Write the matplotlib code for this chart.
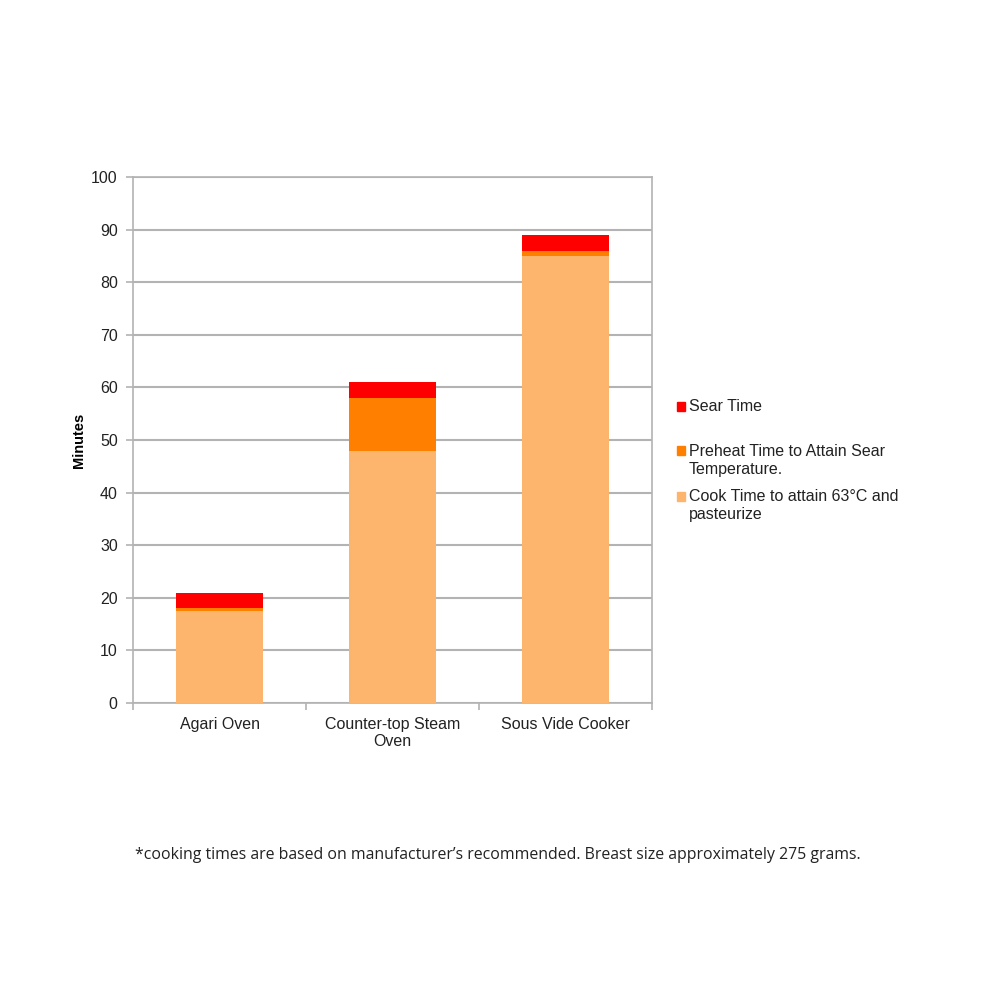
import matplotlib.pyplot as plt
from matplotlib.patches import Rectangle
import numpy as np

plt.rcParams['font.family'] = ['Liberation Sans', 'DejaVu Sans']

categories = ['Agari Oven', 'Counter-top Steam\nOven', 'Sous Vide Cooker']
cook_time = [17.5, 48, 85]
preheat_time = [0.5, 10, 1]
sear_time = [3, 3, 3]

series_labels = ['Sear Time',
                 'Preheat Time to Attain Sear\nTemperature.',
                 'Cook Time to attain 63°C and\npasteurize']
series_colors = ['#ff0000', '#ff8000', '#fdb46d']
footnote = ('*cooking times are based on manufacturer\u2019s recommended. '
            'Breast size approximately 275 grams.')

fig = plt.figure(figsize=(10, 10), dpi=100)
ax = fig.add_axes([0.133, 0.297, 0.519, 0.526])

x = np.arange(len(categories))
cook = np.array(cook_time)
pre = np.array(preheat_time)
sear = np.array(sear_time)
ax.bar(x, cook, width=0.5, color=series_colors[2], zorder=3)
ax.bar(x, pre, width=0.5, bottom=cook, color=series_colors[1], zorder=3)
ax.bar(x, sear, width=0.5, bottom=cook + pre, color=series_colors[0], zorder=3)

ax.set_xlim(-0.5, len(categories) - 0.5)
ax.set_ylim(0, 100)
ax.set_yticks(np.arange(0, 101, 10))
ax.yaxis.grid(True, color='#b3b3b3', linewidth=1.5, zorder=0)
ax.set_axisbelow(True)

ax.set_xticks(x)
ax.set_xticklabels(categories, fontsize=11.5, color='#222222', linespacing=1.2)
ax.tick_params(axis='x', length=0, pad=10)
ax.set_xticks(np.arange(-0.5, len(categories)), minor=True)
ax.tick_params(axis='x', which='minor', length=5, color='#b3b3b3', width=1.2)
ax.tick_params(axis='y', length=5, color='#b3b3b3', width=1.2, labelsize=11.5,
               labelcolor='#222222', pad=6)

for side in ['left', 'right', 'top', 'bottom']:
    ax.spines[side].set_color('#b3b3b3')
    ax.spines[side].set_linewidth(1.2)

ax.set_ylabel('Minutes', fontsize=10.5, fontweight='bold', labelpad=4)

# legend, Excel style with evenly spaced slots
legend_y = [0.594, 0.549, 0.504]
for lab, col, ly in zip(series_labels, series_colors, legend_y):
    fig.patches.append(Rectangle((0.677, ly - 0.0045), 0.008, 0.009,
                                 transform=fig.transFigure, color=col,
                                 figure=fig))
    fig.text(0.689, ly + 0.007, lab, fontsize=11.5, color='#222222', va='top',
             linespacing=1.28)

fig.text(0.498, 0.145, footnote, fontsize=11.45, family=['Open Sans', 'DejaVu Sans'],
         color='#222222', ha='center', va='center')

fig.savefig('out.png', dpi=100, facecolor='white')
